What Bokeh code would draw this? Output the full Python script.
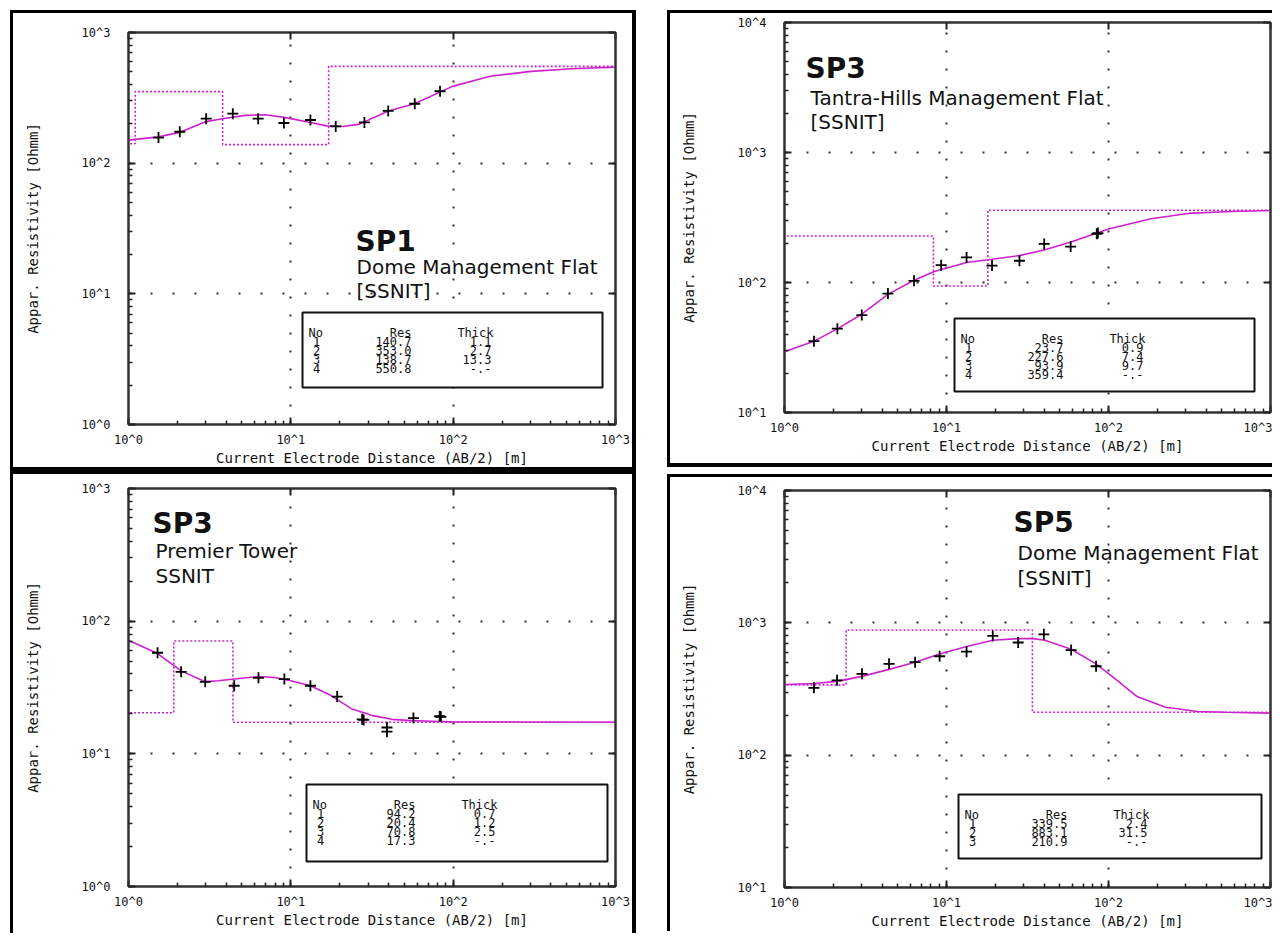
import numpy as np
from bokeh.plotting import figure
from bokeh.models import (LogAxis, Label, BoxAnnotation, CustomJSTickFormatter,
                          Spacer, Range1d)
from bokeh.layouts import column, row
from bokeh.embed import file_html
from bokeh.resources import INLINE

# ---------------- data ----------------
# SP1 - Dome Management Flat [SSNIT]
sp1_ab2 = [1.53, 2.07, 3.01, 4.39, 6.29, 9.06, 13.2, 18.9, 28.4, 39.8, 58.0, 83.0]
sp1_rho = [157, 174, 219, 239, 219, 203, 214, 191, 205, 251, 285, 355]
sp1_fit_ab2 = [1.0, 1.53, 2.06, 3.01, 3.79, 5.23, 6.98, 9.3, 13.2, 16.6, 21.0, 26.5,
               39.8, 57.8, 99.0, 169, 302, 539, 1000]
sp1_fit_rho = [150, 159, 172, 208, 219, 232, 235, 223, 205, 193, 191, 199,
               251, 285, 387, 462, 504, 528, 543]
sp1_res = [140.7, 353.0, 138.7, 550.8]
sp1_thick = [1.1, 2.7, 13.3]

# SP3 - Tantra-Hills Management Flat [SSNIT]
sp3a_ab2 = [1.52, 2.12, 3.0, 4.35, 6.3, 9.27, 13.3, 19.1, 28.2, 40.1, 58.4, 84.6, 86.0]
sp3a_rho = [35.4, 44.1, 56.2, 82.2, 103, 136, 156, 135, 147, 198, 189, 237, 240]
sp3a_fit_ab2 = [1.0, 1.52, 2.12, 3.0, 4.35, 6.3, 8.5, 13.5, 19.1, 28.2, 40.1, 58.1,
                100, 183, 325, 580, 1000]
sp3a_fit_rho = [29.3, 35.4, 44, 57, 81, 104, 122, 143, 151, 161, 178, 204,
                258, 309, 342, 352, 358]
sp3a_res = [23.7, 227.6, 93.9, 359.4]
sp3a_thick = [0.9, 7.4, 9.7]

# SP3 - Premier Tower SSNIT
sp3b_ab2 = [1.51, 2.11, 2.97, 4.48, 6.32, 9.12, 13.2, 19.3, 27.5, 28.1, 39.1, 39.1,
            56.9, 82.6, 84.0]
sp3b_rho = [57.8, 41.5, 34.9, 32.6, 37.4, 36.6, 32.6, 27.0, 18.2, 18.0, 15.8, 14.7,
            18.6, 19.2, 19.0]
sp3b_fit_ab2 = [1.0, 1.51, 2.11, 2.97, 3.57, 4.48, 6.32, 7.94, 10.0, 13.2, 17.7, 23.6,
                31.4, 41.8, 55.6, 74.0, 100, 1000]
sp3b_fit_rho = [71.8, 57, 42.2, 35, 35.6, 36.6, 38.3, 37.6, 35.6, 32.6, 27.5, 21.9,
                19.5, 18.2, 17.8, 17.6, 17.4, 17.3]
sp3b_res = [94.2, 20.4, 70.8, 17.3]
sp3b_thick = [0.7, 1.2, 2.5]

# SP5 - Dome Management Flat [SSNIT]
sp5_ab2 = [1.52, 2.11, 3.01, 4.42, 6.4, 9.07, 13.3, 19.3, 27.7, 39.9, 58.8, 83.8]
sp5_rho = [323, 368, 412, 490, 504, 559, 605, 796, 710, 819, 622, 470]
sp5_fit_ab2 = [1.0, 1.52, 2.11, 3.01, 4.42, 6.4, 9.07, 13.3, 19.3, 27.7, 34.2, 40.5,
               58.8, 83.8, 113, 150, 225, 355, 530, 1000]
sp5_fit_rho = [342, 348, 361, 394, 445, 504, 581, 662, 738, 760, 760, 738,
               632, 490, 368, 277, 230, 214, 211, 208]
sp5_res = [339.5, 883.1, 210.9]
sp5_thick = [2.4, 31.5]

x_label = "Current Electrode Distance (AB/2) [m]"
y_label = "Appar. Resistivity [Ohmm]"

MONO = "DejaVu Sans Mono"
SANS = "DejaVu Sans"
MAG = "#cc22cc"
FRAME = "#333333"


def step_line(res, thick, x_lo=0.1, x_hi=1e4):
    depths = np.cumsum(thick)
    xs, ys = [x_lo], [res[0]]
    for d, r0, r1 in zip(depths, res[:-1], res[1:]):
        xs += [float(d), float(d)]
        ys += [r0, r1]
    xs.append(x_hi)
    ys.append(res[-1])
    return xs, ys


def make_panel(w, h, borders, yr, ab2, rho, fab2, frho, res, thick,
               texts, text_pos, box, shadow):
    bl, br, bt, bb = borders
    fh = h - bt - bb
    p = figure(width=w, height=h, x_axis_type="log", y_axis_type="log",
               x_range=Range1d(1, 1000), y_range=Range1d(*yr),
               output_backend="svg", toolbar_location=None,
               min_border_left=bl, min_border_right=br,
               min_border_top=bt, min_border_bottom=bb,
               border_fill_color=None, background_fill_color="white",
               outline_line_color=FRAME, outline_line_width=2,
               styles={"box-shadow": shadow})

    fmt = CustomJSTickFormatter(code="return '10^' + Math.round(Math.log10(tick));")
    for ax in (p.xaxis[0], p.yaxis[0]):
        ax.formatter = fmt
        ax.major_tick_in = 7
        ax.major_tick_out = 0
        ax.minor_tick_in = 4
        ax.minor_tick_out = 0
        ax.major_tick_line_width = 2
        ax.minor_tick_line_width = 1.5
        ax.major_tick_line_color = "#222"
        ax.minor_tick_line_color = "#222"
        ax.axis_line_width = 2
        ax.axis_line_color = FRAME
        ax.major_label_text_font = MONO
        ax.major_label_text_font_size = "12px"
        ax.major_label_text_color = "#111"
        ax.axis_label_text_font = MONO
        ax.axis_label_text_font_size = "14px"
        ax.axis_label_text_font_style = "normal"
        ax.axis_label_text_color = "#111"
    p.xaxis[0].axis_label = x_label
    p.xaxis[0].major_label_standoff = 8
    p.xaxis[0].axis_label_standoff = 0
    p.yaxis[0].axis_label = y_label
    p.yaxis[0].major_label_standoff = 18
    p.yaxis[0].axis_label_standoff = 38

    for side in ("right", "above"):
        ax = LogAxis(major_tick_in=7, major_tick_out=0, minor_tick_in=0,
                     minor_tick_out=0, minor_tick_line_color=None,
                     major_label_text_font_size="0px", major_label_standoff=0,
                     formatter=CustomJSTickFormatter(code="return '';"),
                     axis_line_width=2, axis_line_color=FRAME,
                     major_tick_line_width=2, major_tick_line_color="#222")
        p.add_layout(ax, side)

    p.xgrid.grid_line_color = "#333"
    p.xgrid.grid_line_width = 2
    p.xgrid.grid_line_dash = "2 16"
    p.ygrid.grid_line_color = "#333"
    p.ygrid.grid_line_width = 2
    p.ygrid.grid_line_dash = "2 20"

    sx, sy = step_line(res, thick)
    p.line(sx, sy, line_color=MAG, line_width=1.6, line_dash="2 2")
    p.line(fab2, frho, line_color=MAG, line_width=1.6)
    p.scatter(ab2, rho, marker="cross", size=11, line_color="black", line_width=1.8)

    # titles
    sizes = ["28px", "20px", "20px"]
    styles = ["bold", "normal", "normal"]
    for t, (tx, ty), fs, st in zip(texts, text_pos, sizes, styles):
        p.add_layout(Label(x=tx, y=fh - ty, x_units="screen", y_units="screen",
                           text=t, text_font=SANS, text_font_size=fs,
                           text_font_style=st, text_baseline="alphabetic",
                           text_color="#111"))

    # layer table
    left, top, right, bottom = box
    p.add_layout(BoxAnnotation(left=left, right=right, top=fh - top, bottom=fh - bottom,
                               left_units="screen", right_units="screen",
                               top_units="screen", bottom_units="screen",
                               fill_color="white", fill_alpha=1.0,
                               line_color="#111", line_alpha=1.0, line_width=2))

    def lab(x, y, text, align):
        p.add_layout(Label(x=x, y=fh - y, x_units="screen", y_units="screen",
                           text=text, text_font=MONO, text_font_size="12px",
                           text_align=align, text_baseline="alphabetic",
                           text_color="#111"))

    lab(left + 6, top + 20, "No", "left")
    lab(left + 109, top + 20, "Res", "right")
    lab(left + 191, top + 20, "Thick", "right")
    for i, r in enumerate(res):
        y = top + 29 + 9 * i
        lab(left + 14, y, str(i + 1), "center")
        lab(left + 109, y, f"{r:.1f}", "right")
        lab(left + 189, y, f"{thick[i]:.1f}" if i < len(thick) else "-.-", "right")
    return p


sh_tl = "inset 3px 0 0 0 #000, inset 0 3px 0 0 #000, inset -4px 0 0 0 #000, inset 0 -3px 0 0 #000"
sh_bl = "inset 3px 0 0 0 #000, inset 0 4px 0 0 #000, inset -4px 0 0 0 #000"
sh_tr = "inset 3px 0 0 0 #000, inset 0 3px 0 0 #000, inset 0 -4px 0 0 #000"
sh_br = "inset 3px 0 0 0 #000, inset 0 3px 0 0 #000"

p1 = make_panel(626, 460, (118, 21, 22, 46), (1, 1000),
                sp1_ab2, sp1_rho, sp1_fit_ab2, sp1_fit_rho, sp1_res, sp1_thick,
                ["SP1", "Dome Management Flat", "[SSNIT]"],
                [(227, 209), (228, 234), (228, 258)],
                (174, 280, 474, 355), sh_tl)
p2 = make_panel(605, 457, (117, 2, 12, 55), (10, 10000),
                sp3a_ab2, sp3a_rho, sp3a_fit_ab2, sp3a_fit_rho, sp3a_res, sp3a_thick,
                ["SP3", "Tantra-Hills Management Flat", "[SSNIT]"],
                [(21, 46), (26, 75), (26, 99)],
                (170, 296, 470, 369), sh_tr)
p3 = make_panel(626, 463, (111, 21, 18, 47), (1, 1000),
                sp3b_ab2, sp3b_rho, sp3b_fit_ab2, sp3b_fit_rho, sp3b_res, sp3b_thick,
                ["SP3", "Premier Tower", "SSNIT"],
                [(24, 35), (27, 62), (27, 87)],
                (178, 296, 479, 373), sh_bl)
p4 = make_panel(605, 457, (117, 2, 16, 41), (10, 10000),
                sp5_ab2, sp5_rho, sp5_fit_ab2, sp5_fit_rho, sp5_res, sp5_thick,
                ["SP5", "Dome Management Flat", "[SSNIT]"],
                [(229, 35), (233, 65), (233, 90)],
                (174, 307, 477, 371), sh_br)

left_col = column(p1, p3)
right_col = column(p2, Spacer(width=605, height=7), p4)
root = column(Spacer(width=1272, height=10),
              row(Spacer(width=10, height=10), left_col, Spacer(width=31, height=10), right_col))

open("out.html", "w").write(file_html(root, INLINE))
